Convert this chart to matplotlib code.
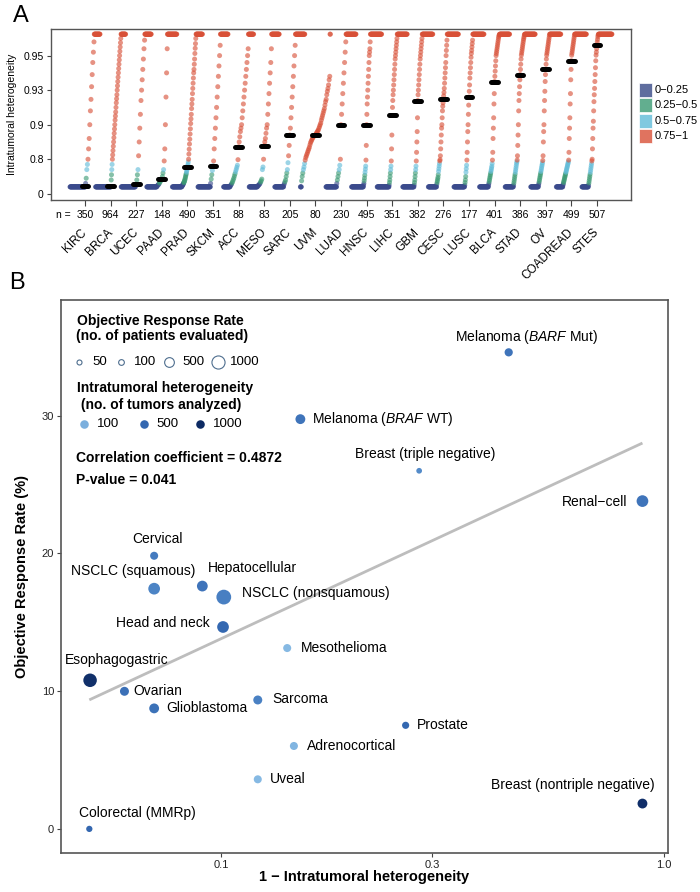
import numpy as np
import matplotlib
matplotlib.use("Agg")
import matplotlib.pyplot as plt
import matplotlib.transforms as mtransforms
from matplotlib.colors import LinearSegmentedColormap, Normalize
from matplotlib.patches import Rectangle
from matplotlib.ticker import NullLocator

plt.rcParams["font.family"] = ["Liberation Sans", "DejaVu Sans"]
plt.rcParams["mathtext.fontset"] = "custom"
plt.rcParams["mathtext.rm"] = "Liberation Sans"
plt.rcParams["mathtext.it"] = "Liberation Sans:italic"
plt.rcParams["mathtext.bf"] = "Liberation Sans:bold"

# ---------------- panel A data ----------------
CANCERS = ["KIRC", "BRCA", "UCEC", "PAAD", "PRAD", "SKCM", "ACC", "MESO", "SARC",
           "UVM", "LUAD", "HNSC", "LIHC", "GBM", "CESC", "LUSC", "BLCA", "STAD",
           "OV", "COADREAD", "STES"]
N_TUMORS = [350, 964, 227, 148, 490, 351, 88, 83, 205, 80, 230, 495, 351, 382,
            276, 177, 401, 386, 397, 499, 507]
MEDIANS = [0.18, 0.18, 0.22, 0.34, 0.61, 0.65, 0.836, 0.839, 0.87, 0.87, 0.90,
           0.90, 0.908, 0.921, 0.922, 0.924, 0.935, 0.939, 0.942, 0.947, 0.975]
# share of tumours sitting on the floor / ceiling value
FLOOR_FRAC = [0.52, 0.52, 0.48, 0.34, 0.32, 0.42, 0.22, 0.28, 0.30, 0.04, 0.36,
              0.40, 0.40, 0.38, 0.28, 0.36, 0.30, 0.28, 0.26, 0.22, 0.22]
CEIL_FRAC = [0.20, 0.16, 0.22, 0.32, 0.22, 0.26, 0.18, 0.26, 0.32, 0.02, 0.34,
             0.38, 0.34, 0.36, 0.38, 0.38, 0.34, 0.36, 0.38, 0.40, 0.46]
FLOOR_VALUE = 0.16
CEIL_VALUE = 1.0
# sorted values between floor and ceiling
RISE = [
    [0.24, 0.36, 0.56, 0.68, 0.80, 0.83, 0.86, 0.90, 0.912, 0.922, 0.932, 0.939,
     0.946, 0.958, 0.982],
    [0.32, 0.44, 0.56, 0.68, 0.80, 0.8125, 0.825, 0.8375, 0.85, 0.8625, 0.875,
     0.8875, 0.90, 0.904, 0.9075, 0.911, 0.915, 0.919, 0.9225, 0.926, 0.930,
     0.9325, 0.935, 0.9375, 0.940, 0.9425, 0.945, 0.9475, 0.950, 0.960, 0.970,
     0.980, 0.990],
    [0.20, 0.22, 0.32, 0.44, 0.56, 0.81, 0.85, 0.89, 0.909, 0.921, 0.930, 0.936,
     0.942, 0.948, 0.966, 0.986],
    [0.18, 0.19, 0.21, 0.22, 0.25, 0.27, 0.30, 0.32, 0.34, 0.40, 0.48, 0.56, 0.76,
     0.83, 0.90, 0.924, 0.940, 0.966],
    [0.176, 0.188, 0.20, 0.212, 0.224, 0.24, 0.256, 0.272, 0.288, 0.312, 0.336,
     0.368, 0.40, 0.432, 0.464, 0.50, 0.536, 0.572, 0.608, 0.644, 0.68, 0.736,
     0.80, 0.815, 0.829, 0.844, 0.858, 0.873, 0.888, 0.901, 0.905, 0.909, 0.914,
     0.918, 0.922, 0.927, 0.931, 0.934, 0.937, 0.940, 0.942, 0.945, 0.948, 0.955,
     0.967, 0.978, 0.990],
    [0.24, 0.34, 0.44, 0.54, 0.65, 0.76, 0.83, 0.86, 0.89, 0.906, 0.915, 0.924,
     0.932, 0.938, 0.944, 0.950, 0.974],
    [0.18, 0.20, 0.22, 0.25, 0.28, 0.32, 0.36, 0.41, 0.46, 0.51, 0.56, 0.61, 0.66,
     0.79, 0.836, 0.85, 0.865, 0.88, 0.89, 0.90, 0.906, 0.912, 0.918, 0.924,
     0.93, 0.934, 0.938, 0.942, 0.946, 0.95, 0.966],
    [0.18, 0.19, 0.20, 0.22, 0.24, 0.27, 0.30, 0.34, 0.56, 0.62, 0.80, 0.839,
     0.85, 0.86, 0.875, 0.89, 0.90, 0.909, 0.918, 0.927, 0.934, 0.94, 0.946,
     0.966],
    [0.20, 0.24, 0.28, 0.32, 0.40, 0.48, 0.56, 0.72, 0.81, 0.84, 0.87, 0.89,
     0.906, 0.915, 0.924, 0.932, 0.938, 0.944, 0.950, 0.974],
    [0.30, 0.40, 0.48, 0.56, 0.62, 0.70, 0.78, 0.805, 0.81, 0.815, 0.82, 0.825,
     0.83, 0.835, 0.842, 0.848, 0.852, 0.856, 0.86, 0.863, 0.866, 0.868, 0.869,
     0.87, 0.873, 0.876, 0.879, 0.882, 0.885, 0.89, 0.895, 0.90, 0.9015, 0.904,
     0.906, 0.908, 0.910, 0.912, 0.914, 0.917, 0.920, 0.922, 0.926, 0.929, 0.931,
     0.933, 0.936, 0.938],
    [0.24, 0.32, 0.40, 0.48, 0.56, 0.66, 0.80, 0.90, 0.909, 0.918, 0.927, 0.934,
     0.940, 0.946, 0.958, 0.982],
    [0.20, 0.24, 0.30, 0.36, 0.43, 0.50, 0.57, 0.64, 0.78, 0.84, 0.90, 0.909,
     0.918, 0.924, 0.93, 0.934, 0.938, 0.942, 0.946, 0.95, 0.958, 0.966, 0.982],
    [0.20, 0.26, 0.32, 0.40, 0.48, 0.56, 0.64, 0.76, 0.83, 0.87, 0.908, 0.915,
     0.921, 0.926, 0.930, 0.933, 0.936, 0.939, 0.942, 0.945, 0.948, 0.95, 0.958,
     0.966, 0.974, 0.982, 0.99],
    [0.20, 0.26, 0.32, 0.40, 0.48, 0.56, 0.64, 0.76, 0.82, 0.85, 0.88, 0.906,
     0.921, 0.926, 0.930, 0.933, 0.936, 0.939, 0.942, 0.945, 0.948, 0.95, 0.958,
     0.966, 0.974, 0.982, 0.99],
    [0.22, 0.26, 0.30, 0.34, 0.38, 0.44, 0.52, 0.58, 0.64, 0.70, 0.76, 0.79, 0.81,
     0.83, 0.85, 0.87, 0.89, 0.90, 0.906, 0.912, 0.916, 0.919, 0.922, 0.925,
     0.928, 0.931, 0.934, 0.937, 0.940, 0.943, 0.946, 0.950, 0.962, 0.974, 0.986],
    [0.20, 0.26, 0.32, 0.40, 0.50, 0.58, 0.66, 0.78, 0.82, 0.85, 0.88, 0.90,
     0.909, 0.917, 0.924, 0.929, 0.933, 0.937, 0.940, 0.943, 0.946, 0.949, 0.955,
     0.962, 0.970, 0.978, 0.986],
    [0.20, 0.24, 0.28, 0.32, 0.36, 0.40, 0.44, 0.48, 0.52, 0.56, 0.60, 0.64, 0.70,
     0.78, 0.82, 0.86, 0.89, 0.906, 0.918, 0.927, 0.935, 0.938, 0.941, 0.944,
     0.947, 0.950, 0.955, 0.960, 0.965, 0.970, 0.975, 0.980, 0.985, 0.990, 0.994,
     0.997, 0.999],
    [0.20, 0.25, 0.30, 0.35, 0.40, 0.45, 0.50, 0.55, 0.60, 0.65, 0.70, 0.74, 0.78,
     0.81, 0.84, 0.87, 0.90, 0.912, 0.921, 0.927, 0.932, 0.936, 0.939, 0.942,
     0.945, 0.948, 0.951, 0.956, 0.961, 0.966, 0.971, 0.976, 0.981, 0.986, 0.990,
     0.994, 0.998],
    [0.20, 0.24, 0.28, 0.32, 0.36, 0.40, 0.44, 0.48, 0.52, 0.56, 0.60, 0.64, 0.68,
     0.72, 0.77, 0.81, 0.85, 0.88, 0.90, 0.912, 0.921, 0.929, 0.935, 0.939, 0.942,
     0.945, 0.948, 0.951, 0.956, 0.961, 0.966, 0.971, 0.976, 0.981, 0.986, 0.991,
     0.996],
    [0.20, 0.23, 0.26, 0.29, 0.32, 0.35, 0.38, 0.41, 0.44, 0.47, 0.50, 0.53, 0.56,
     0.59, 0.62, 0.65, 0.68, 0.71, 0.74, 0.78, 0.82, 0.86, 0.89, 0.906, 0.918,
     0.927, 0.936, 0.942, 0.947, 0.951, 0.956, 0.961, 0.966, 0.971, 0.976, 0.981,
     0.986, 0.991, 0.996],
    [0.20, 0.25, 0.30, 0.35, 0.40, 0.45, 0.50, 0.55, 0.60, 0.65, 0.70, 0.76, 0.80,
     0.83, 0.86, 0.89, 0.903, 0.912, 0.920, 0.926, 0.931, 0.935, 0.939, 0.943,
     0.947, 0.951, 0.958, 0.966, 0.975, 0.982, 0.988, 0.994, 0.998],
]
CLASS_LABELS = ["0\u22120.25", "0.25\u22120.5", "0.5\u22120.75", "0.75\u22121"]
CLASS_EDGES = [0.25, 0.5, 0.75]
Y_TICKS = [0, 0.8, 0.9, 0.93, 0.95]

# ---------------- panel B data ----------------
TYPES = ["Melanoma ($\\mathit{BARF}$ Mut)", "Melanoma ($\\mathit{BRAF}$ WT)",
         "Breast (triple negative)", "Renal\u2212cell", "Cervical",
         "NSCLC (squamous)", "Hepatocellular", "NSCLC (nonsquamous)",
         "Head and neck", "Mesothelioma", "Esophagogastric", "Ovarian",
         "Glioblastoma", "Sarcoma", "Prostate", "Adrenocortical", "Uveal",
         "Breast (nontriple negative)", "Colorectal (MMRp)"]
ONE_MINUS_ITH = [0.446, 0.151, 0.280, 0.894, 0.0706, 0.0706, 0.0907, 0.1014,
                 0.101, 0.141, 0.0506, 0.0605, 0.0706, 0.121, 0.261, 0.146,
                 0.121, 0.894, 0.0504]
ORR = [34.6, 29.75, 26.0, 23.8, 19.83, 17.44, 17.63, 16.83, 14.66, 13.13, 10.79,
       9.99, 8.75, 9.36, 7.52, 6.02, 3.6, 1.84, 0.0]
PATIENTS = [325, 515, 100, 775, 306, 775, 640, 1300, 775, 306, 1070, 410, 515,
            410, 220, 306, 306, 515, 142]
TUMORS_ANALYZED = [351, 351, 160, 350, 276, 177, 351, 230, 495, 83, 950, 397,
                   382, 205, 490, 88, 80, 964, 499]
FIT_INTERCEPT = 28.74   # ORR = a + b * log10(1 - ITH)
FIT_SLOPE = 14.93
SIZE_KEYS = [50, 100, 500, 1000]
COLOR_KEYS = [100, 500, 1000]

# ---------------- styles / layout ----------------
POINT_COLORS = ["#3a4a8c", "#3b9a73", "#60bbd8", "#d85037"]
KEY_COLORS = ["#5f6d9e", "#62ae8f", "#80c9e0", "#e0735f"]
SPREAD = 1.17
# label offsets in pixels (dx, dy) and alignment
LABEL_POS = [(18, 15.6, "center"), (12, 0, "left"), (6, 17, "center"),
             (-14.7, -1, "right"), (3, 16.7, "center"), (-21, 17.7, "center"),
             (5.4, 17.7, "left"), (18, 3.7, "left"), (-13, 3.7, "right"),
             (14, 0, "left"), (-25, 20, "left"), (9.4, 0.7, "left"),
             (12, 0, "left"), (14.7, 0.7, "left"), (11, 0, "left"),
             (13, 0, "left"), (12, 0, "left"), (12.5, 18.7, "right"),
             (-10, 15.7, "left")]

W, H = 700, 892
fig = plt.figure(figsize=(W / 100, H / 100), dpi=100)

# ============ panel A ============
axA = fig.add_axes([50.7 / W, 1 - 200 / H, (631 - 50.7) / W, 171 / H])

VAL_NODES = np.array([-1.0, 0.0, 0.8, 0.9, 0.93, 0.95, 1.0, 2.0])
POS_NODES = np.array([-1.25, 0.0, 1.0, 2.0, 3.0, 4.0, 4.62, 17.02])


def fwd(v):
    return np.interp(v, VAL_NODES, POS_NODES)


def inv(p):
    return np.interp(p, POS_NODES, VAL_NODES)


axA.set_yscale("function", functions=(fwd, inv))

xs, ys = [], []
for i, name in enumerate(CANCERS):
    pos = i + 1
    fl, ce, rise = FLOOR_FRAC[i], CEIL_FRAC[i], RISE[i]
    f_floor = np.arange(0, fl - 1e-9, 0.01)
    f_rise = np.linspace(fl, 1 - ce, len(rise))
    f_ceil = np.arange(1 - ce + 0.01, 1 + 1e-9, 0.01)
    xs.extend(pos + (f_floor - 0.5) * SPREAD)
    ys.extend([FLOOR_VALUE] * len(f_floor))
    xs.extend(pos + (f_rise - 0.5) * SPREAD)
    ys.extend(rise)
    xs.extend(pos + (f_ceil - 0.5) * SPREAD)
    ys.extend([CEIL_VALUE] * len(f_ceil))
xs = np.array(xs)
ys = np.array(ys)
cls = np.digitize(ys, CLASS_EDGES)
cols = [POINT_COLORS[c] for c in cls]
axA.scatter(xs, ys, s=13, c=cols, alpha=0.62, linewidths=0, zorder=2)

for i, m in enumerate(MEDIANS):
    axA.plot([i + 1 - 0.13, i + 1 + 0.13], [m, m], color="black", lw=3.6,
             solid_capstyle="round", zorder=4)

axA.set_xlim(-0.34, 22.33)
axA.set_ylim(inv(-0.18), inv(4.77))
axA.set_yticks(Y_TICKS)
axA.set_yticklabels(["0", "0.8", "0.9", "0.93", "0.95"], fontsize=7.5)
axA.set_xticks(range(1, len(CANCERS) + 1))
axA.set_xticklabels(CANCERS, rotation=45, ha="right", rotation_mode="anchor",
                    fontsize=8.5, va="center")
axA.tick_params(axis="x", length=4, pad=18, color="#444")
axA.tick_params(axis="y", length=3, pad=2, color="#444")
axA.yaxis.set_minor_locator(NullLocator())
axA.set_ylabel("Intratumoral heterogeneity", fontsize=7.5)
axA.yaxis.set_label_coords(-0.058, 0.5)
for sp in axA.spines.values():
    sp.set_color("#555")
    sp.set_linewidth(1.0)

trA = mtransforms.blended_transform_factory(axA.transData, axA.transAxes)
axA.text(0.42, -0.088, "n =", transform=trA, ha="right", va="center", fontsize=7.5)
for i, n in enumerate(N_TUMORS):
    axA.text(i + 1, -0.088, str(n), transform=trA, ha="center", va="center",
             fontsize=7.5)

# colour key
for k, (lab, col) in enumerate(zip(CLASS_LABELS, KEY_COLORS)):
    yc = 90 + k * 15.3
    fig.add_artist(Rectangle((639 / W, 1 - (yc + 7) / H), 13 / W, 14 / H,
                             transform=fig.transFigure, facecolor=col,
                             edgecolor="white", lw=0.5))
    fig.text(655 / W, 1 - yc / H, lab, fontsize=8, va="center", ha="left")

# ============ panel B ============
axB = fig.add_axes([61 / W, 1 - 853 / H, 607 / W, 553 / H])
axB.set_xscale("log")

cmap = LinearSegmentedColormap.from_list(
    "ith", [(0.0, "#86b9e3"), (0.1, "#4c84c5"), (0.45, "#3468b1"), (1.0, "#0d2a63")])
norm = Normalize(80, 1000)


def marker_area(n):
    return 9 + 0.08 * np.asarray(n, dtype=float)


x = np.array(ONE_MINUS_ITH)
y = np.array(ORR)
xl = np.array([x.min(), x.max()])
axB.plot(xl, FIT_INTERCEPT + FIT_SLOPE * np.log10(xl), color="#bdbdbd", lw=2,
         zorder=1, solid_capstyle="butt")
axB.scatter(x, y, s=marker_area(PATIENTS), c=TUMORS_ANALYZED, cmap=cmap,
            norm=norm, linewidths=0, zorder=3)

for xi, yi, lab, (dx, dy, ha) in zip(x, y, TYPES, LABEL_POS):
    axB.annotate(lab, (xi, yi), xytext=(dx * 0.72, dy * 0.72),
                 textcoords="offset points", ha=ha, va="center", fontsize=10,
                 zorder=4)

axB.set_xlim(0.0435, 1.021)
axB.set_ylim(-1.75, 38.4)
axB.set_xticks([0.1, 0.3, 1.0])
axB.set_xticklabels(["0.1", "0.3", "1.0"], fontsize=8)
axB.xaxis.set_minor_locator(NullLocator())
axB.set_yticks([0, 10, 20, 30])
axB.set_yticklabels(["0", "10", "20", "30"], fontsize=8)
axB.tick_params(length=3, color="#444", labelcolor="#222", pad=2)
axB.set_xlabel("1 \u2212 Intratumoral heterogeneity", fontsize=10.5,
               fontweight="bold")
axB.set_ylabel("Objective Response Rate (%)", fontsize=10.5, fontweight="bold")
axB.xaxis.set_label_coords(0.5, -0.031)
axB.yaxis.set_label_coords(-0.052, 0.5)
for sp in axB.spines.values():
    sp.set_color("#555")
    sp.set_linewidth(1.2)

# in-plot keys
ta = axB.transAxes
axB.text(0.027, 0.962, "Objective Response Rate", transform=ta, fontsize=10,
         fontweight="bold", va="center")
axB.text(0.025, 0.935, "(no. of patients evaluated)", transform=ta, fontsize=10,
         fontweight="bold", va="center")
size_x = [0.030, 0.099, 0.178, 0.258]
for sx, n in zip(size_x, SIZE_KEYS):
    axB.scatter([sx], [0.887], s=marker_area(n), transform=ta, facecolors="white",
                edgecolors="#4e6e8e", linewidths=0.8, zorder=5, clip_on=False)
    axB.text(sx + 0.022 if n < 1000 else sx + 0.02, 0.887, str(n), transform=ta,
             fontsize=9.5, va="center")
axB.text(0.027, 0.840, "Intratumoral heterogeneity", transform=ta, fontsize=10,
         fontweight="bold", va="center")
axB.text(0.027, 0.810, " (no. of tumors analyzed)", transform=ta, fontsize=10,
         fontweight="bold", va="center")
color_x = [0.038, 0.136, 0.229]
for cx, n in zip(color_x, COLOR_KEYS):
    axB.scatter([cx], [0.775], s=38, transform=ta, c=[cmap(norm(n))],
                linewidths=0, zorder=5)
    axB.text(cx + 0.021, 0.775, str(n), transform=ta, fontsize=9.5, va="center")
axB.text(0.025, 0.715, "Correlation coefficient = 0.4872", transform=ta,
         fontsize=10, fontweight="bold", va="center")
axB.text(0.025, 0.674, "P-value = 0.041", transform=ta, fontsize=10,
         fontweight="bold", va="center")

fig.text(21 / W, 1 - 16 / H, "A", fontsize=17, ha="center", va="center")
fig.text(17 / W, 1 - 283 / H, "B", fontsize=17, ha="center", va="center")

fig.savefig("out.png", dpi=100)
